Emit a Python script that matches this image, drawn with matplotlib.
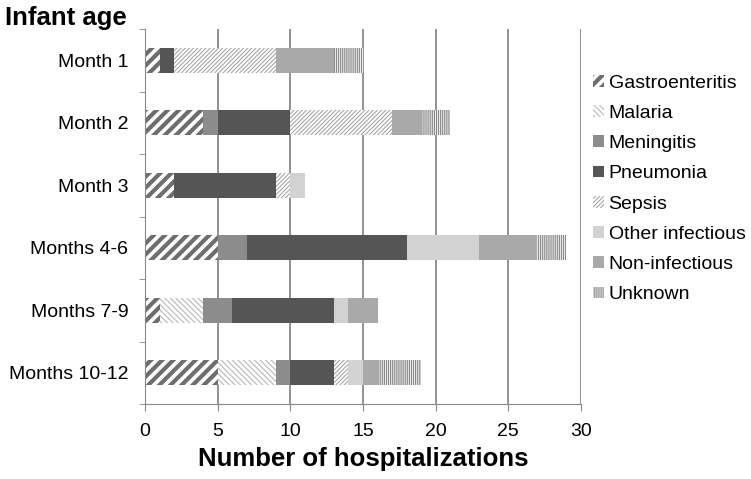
import numpy as np
import matplotlib
matplotlib.use("Agg")
import matplotlib.pyplot as plt

plt.rcParams["font.family"] = ["Liberation Sans", "DejaVu Sans"]

ages = ["Month 1", "Month 2", "Month 3", "Months 4-6", "Months 7-9", "Months 10-12"]

gastro = [1, 4, 2, 5, 1, 5]
malaria = [0, 0, 0, 0, 3, 4]
meningitis = [0, 1, 0, 2, 2, 1]
pneumonia = [1, 5, 7, 11, 7, 3]
sepsis = [7, 7, 1, 0, 0, 1]
other_inf = [0, 0, 1, 5, 1, 1]
non_inf = [4, 2, 0, 4, 2, 1]
unknown = [2, 2, 0, 2, 0, 3]

# name, values, face colour, hatch colour, hatch, hatch line width
series = [
    ("Gastroenteritis", gastro, "white", "#6e6e6e", "///", 3.0),
    ("Malaria", malaria, "white", "#b8b8b8", "\\\\\\\\\\\\", 0.8),
    ("Meningitis", meningitis, "#8c8c8c", None, None, 0),
    ("Pneumonia", pneumonia, "#555555", None, None, 0),
    ("Sepsis", sepsis, "white", "#a8a8a8", "////////", 0.8),
    ("Other infectious", other_inf, "#d2d2d2", None, None, 0),
    ("Non-infectious", non_inf, "#a9a9a9", None, None, 0),
    ("Unknown", unknown, "white", "#8a8a8a", "||||||||", 0.9),
]

W, H = 751, 479
fig = plt.figure(figsize=(W / 100, H / 100), dpi=100)
ax = fig.add_axes([145 / W, 1 - 404 / H, 436 / W, 375 / H])

y = np.arange(len(ages))
left = np.zeros(len(ages))
handles = []
for name, vals, fc, hc, hatch, hlw in series:
    vals = np.array(vals, dtype=float)
    if hatch:
        plt.rcParams["hatch.linewidth"] = hlw
        bars = ax.barh(y, vals, left=left, height=0.4, color=fc, edgecolor=hc,
                       hatch=hatch, linewidth=0, label=name)
        for b in bars:
            try:
                b.set_hatch_linewidth(hlw)
            except AttributeError:
                pass
    else:
        bars = ax.barh(y, vals, left=left, height=0.4, color=fc, linewidth=0, label=name)
    handles.append(bars)
    left = left + vals

ax.set_xlim(0, 30)
ax.set_ylim(len(ages) - 0.5, -0.5)
ax.set_xticks(range(0, 31, 5))
ax.set_yticks(y)
ax.set_yticklabels(ages)
ax.set_yticks(np.arange(-0.5, len(ages), 1), minor=True)
ax.tick_params(axis="y", which="major", length=0, labelsize=14, pad=12)
ax.tick_params(axis="y", which="minor", length=4, color="#888888")
ax.tick_params(axis="x", length=5, color="#888888", labelsize=14, pad=9)
ax.xaxis.grid(True, color="#8a8a8a", linewidth=1.3)
ax.set_axisbelow(True)
for s in ["top", "right"]:
    ax.spines[s].set_visible(False)
ax.spines["left"].set_color("#888888")
ax.spines["bottom"].set_color("#888888")

ax.set_xlabel("Number of hospitalizations", fontsize=18.5, fontweight="bold", labelpad=5)
fig.text(5 / W, 1 - 18 / H, "Infant age", fontsize=18.5, fontweight="bold", va="center")

leg = fig.legend(handles=handles, loc="center left", bbox_to_anchor=(593 / W, 1 - 189 / H),
                 frameon=False, fontsize=14, handlelength=0.55, handleheight=0.55,
                 handletextpad=0.25, labelspacing=0.68, borderaxespad=0, borderpad=0)

# legend swatches get the same hatch widths as the bars
for patch, s in zip(leg.legend_handles, series):
    if s[4]:
        try:
            patch.set_hatch_linewidth(s[5])
        except AttributeError:
            pass

fig.savefig("out.png", dpi=100)
